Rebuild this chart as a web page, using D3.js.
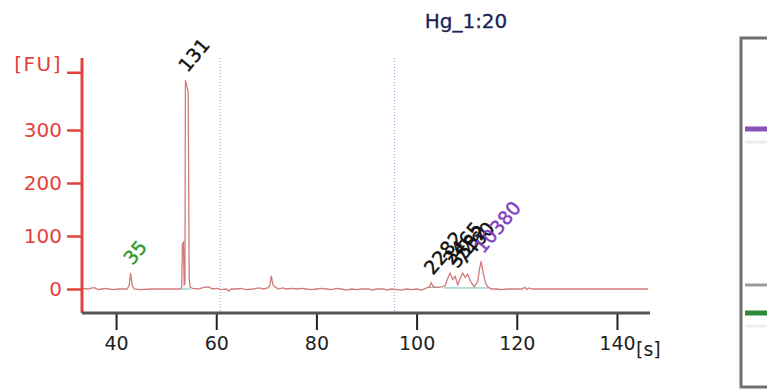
<!DOCTYPE html>
<html>
<head>
<meta charset="utf-8">
<script src="https://cdn.jsdelivr.net/npm/d3@7"></script>
<style>
  body { margin: 0; background: #fff; }
  svg { display: block; font-family: "DejaVu Sans", Verdana, sans-serif; }
</style>
</head>
<body>
<div id="chart"></div>
<script>
// electropherogram trace, [time s, FU]
var trace = [
  [33.2, 1], [34.5, 0], [35.2, 2], [35.8, 2], [36.4, -1], [37.2, 0], [38, 1], [38.6, 0],
  [39.4, -1], [40.5, 0], [42.2, 0], [42.6, 6], [42.9, 30], [43.2, 8], [43.6, 0],
  [45, -1], [47, 0], [49, 0], [51, 0], [52.8, 0], [53.1, 3], [53.25, 85], [53.45, 88],
  [53.6, 8], [53.75, 10], [53.85, 394], [54.0, 388], [54.4, 372], [54.6, 20], [54.8, 3],
  [55.3, 1], [56.5, 0], [57.5, 3], [58.5, 4], [59.2, 0], [60.2, 1], [61, -1], [62, 0],
  [62.5, -4], [63, 0], [64, 0], [65, 1], [66, -1], [67.5, 0], [68.5, 2], [69.5, 0],
  [70.3, 2], [70.7, 6], [71.0, 25], [71.3, 8], [71.8, 3], [72.5, 0], [73.2, 2], [74, 0],
  [75, 1], [76, 0], [77, 1], [78, 0], [79, -1], [80, 0], [81, 1], [82, 0], [83, -1],
  [84, 1], [85, 0], [86, -2], [87, 0], [88, -1], [89, 0], [90.5, 0], [91, -2], [92, 0],
  [93.5, 0], [94, -2], [95, 0], [96, -1], [97, -2], [98, 0], [99, -1], [100, 0],
  [101, -2], [102, 2], [102.6, 4], [102.9, 12], [103.3, 5], [104, 3], [105, 4],
  [105.7, 6], [106.3, 22], [106.7, 30], [107.2, 18], [107.7, 24], [108.2, 8],
  [108.8, 22], [109.2, 30], [109.7, 22], [110.2, 28], [110.8, 14], [111.5, 4], [112.2, 14],
  [112.6, 40], [112.9, 52], [113.3, 30], [113.8, 10], [114.3, 3], [115, 0], [116, 0],
  [117, -1], [118, 0], [120, 0], [121, 0], [121.6, 3], [122, -1], [122.5, 2], [123, 0],
  [125, 0], [130, 0], [135, 0], [140, 0], [146.2, 0]
];

// peak labels: [time, FU, text, colour]
var peakLabels = [
  [42.9, 30, "35", "#2e9a2e"],
  [53.85, 394, "131", "#111"],
  [102.9, 12, "2282", "#111"],
  [106.7, 30, "2465", "#111"],
  [107.7, 24, "3552", "#111"],
  [109.2, 30, "7460", "#111"],
  [112.9, 52, "10380", "#8040c0"]
];

// integration baselines under peaks: [start, end, FU]
var baselines = [[53.0, 54.9, 0], [102.2, 104.6, 3], [105.4, 114.2, 2]];

var markerLines = [60.8, 95.6];      // dotted time-window lines
var xTicks = [40, 60, 80, 100, 120, 140];
var yTicks = [0, 100, 200, 300];

// gel lane bands: [name, colour, thickness] and their y position in the lane
var gelBands = [["upper", "#8a52b8", 5], ["upper-faint", "#ececf2", 3], ["mid", "#9a9a9a", 3],
                ["lower", "#2f8a3a", 5], ["lower-faint", "#eef0ee", 3]];
var gelBandPos = [129, 142, 285, 313, 326];

var width = 767, height = 390;
var svg = d3.select("#chart").append("svg").attr("width", width).attr("height", height);

var x = d3.scaleLinear().domain([33.2, 146.2]).range([82, 648]);
var y = d3.scaleLinear().domain([0, 100]).range([289, 236]);

var red = "#e3423c";

// title
svg.append("text").attr("x", 466).attr("y", 28).attr("text-anchor", "middle")
  .attr("font-size", 20).attr("fill", "#1c2456")
  .attr("stroke", "#1c2456").attr("stroke-width", 0.3).text("Hg_1:20");

// dotted vertical lines
svg.selectAll(".vmark").data(markerLines).enter().append("line")
  .attr("x1", d => x(d)).attr("x2", d => x(d))
  .attr("y1", 58).attr("y2", 313)
  .attr("stroke", "#9a9ad8").attr("stroke-width", 1).attr("stroke-dasharray", "1,2");

// baselines (teal)
svg.selectAll(".bl").data(baselines).enter().append("line")
  .attr("x1", d => x(d[0])).attr("x2", d => x(d[1]))
  .attr("y1", d => y(d[2])).attr("y2", d => y(d[2]))
  .attr("stroke", "#6cc0b0").attr("stroke-width", 1);

// trace
var line = d3.line().x(d => x(d[0])).y(d => y(d[1]));
svg.append("path").datum(trace).attr("d", line)
  .attr("fill", "none").attr("stroke", "#d27a7a").attr("stroke-width", 1.3);

// peak labels
svg.selectAll(".pl").data(peakLabels).enter().append("text")
  .attr("transform", d => "translate(" + (x(d[0]) + 2) + "," + (y(d[1]) - 7) + ") rotate(-50)")
  .attr("font-size", 19).attr("fill", d => d[3])
  .attr("stroke", d => d[3]).attr("stroke-width", 0.4).text(d => d[2]);

// y axis
var yAxis = svg.append("g").attr("transform", "translate(82,0)")
  .call(d3.axisLeft(y).tickValues(yTicks).tickSize(15).tickPadding(5).tickFormat(d3.format("d")));
yAxis.select(".domain").remove();
yAxis.selectAll(".tick line").attr("stroke", red).attr("stroke-width", 2.5);
yAxis.selectAll(".tick text").attr("fill", red).attr("font-size", 20)
  .attr("font-family", "DejaVu Sans, sans-serif");
svg.append("line").attr("x1", 82).attr("x2", 82).attr("y1", 58).attr("y2", 313)
  .attr("stroke", red).attr("stroke-width", 3);
// [FU] label + tick
svg.append("line").attr("x1", 67).attr("x2", 82).attr("y1", y(408)).attr("y2", y(408))
  .attr("stroke", red).attr("stroke-width", 2.5);
svg.append("text").attr("x", 62).attr("y", y(408) - 2).attr("text-anchor", "end")
  .attr("font-size", 20).attr("letter-spacing", 1.5).attr("fill", red).text("[FU]");

// x axis
var xAxis = svg.append("g").attr("transform", "translate(0,313)")
  .call(d3.axisBottom(x).tickValues(xTicks).tickSize(17).tickPadding(7).tickFormat(d3.format("d")));
xAxis.select(".domain").remove();
xAxis.selectAll(".tick line").attr("stroke", "#222").attr("stroke-width", 2);
xAxis.selectAll(".tick text").attr("fill", "#222").attr("font-size", 19)
  .attr("font-family", "DejaVu Sans, sans-serif");
svg.append("line").attr("x1", 82).attr("x2", 650).attr("y1", 313).attr("y2", 313)
  .attr("stroke", "#555").attr("stroke-width", 3);
svg.append("text").attr("x", 636).attr("y", 356).attr("font-size", 19).attr("fill", "#222").text("[s]");

// gel lane on the right
svg.append("rect").attr("x", 741).attr("y", 38).attr("width", 40).attr("height", 349)
  .attr("fill", "#fff").attr("stroke", "#707070").attr("stroke-width", 3);
svg.selectAll(".band").data(gelBands).enter().append("line")
  .attr("x1", 745).attr("x2", 767)
  .attr("y1", (d, i) => gelBandPos[i]).attr("y2", (d, i) => gelBandPos[i])
  .attr("stroke", d => d[1]).attr("stroke-width", d => d[2]);
</script>
</body>
</html>
